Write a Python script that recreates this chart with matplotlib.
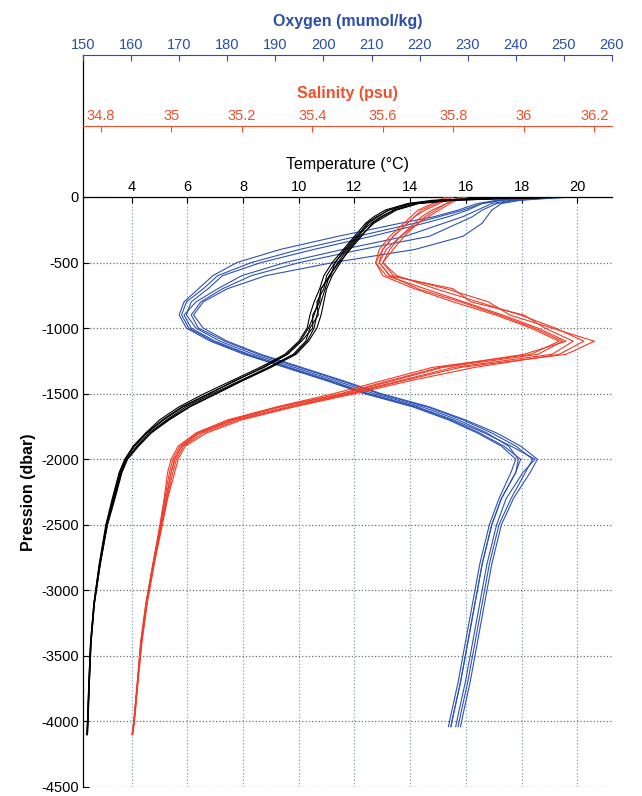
import matplotlib
matplotlib.use('Agg')
import matplotlib.pyplot as plt
from matplotlib.lines import Line2D

plt.rcParams['font.family'] = ['Liberation Sans', 'DejaVu Sans']
plt.rcParams['axes.unicode_minus'] = False

# ---------------- data ----------------
PRESSURE = [0, -10, -25, -50, -100, -150, -200, -300, -400, -500, -600, -700, -800, -900,
            -1000, -1100, -1200, -1300, -1400, -1500, -1600, -1700, -1800, -1900, -2000,
            -2100, -2300, -2500, -2800, -3100, -3400, -3700, -4000, -4100]
PRESSURE_OXY = [0, -10, -25, -50, -100, -150, -200, -300, -400, -500, -600, -700, -800, -900,
                -1000, -1100, -1200, -1300, -1400, -1500, -1600, -1700, -1800, -1900, -2000,
                -2100, -2300, -2500, -2800, -3100, -3400, -3700, -3950, -4040]

TEMP_1 = [20.8, 16.5, 14.8, 13.9, 13.1, 12.7, 12.4, 12.0, 11.6, 11.2, 10.9, 10.75, 10.55, 10.4, 10.3, 10.0, 9.5, 8.6, 7.6, 6.6, 5.7, 5.0, 4.5, 4.05, 3.75, 3.55, 3.3, 3.07, 2.83, 2.64, 2.52, 2.46, 2.41, 2.39]
TEMP_2 = [19.4, 17.8, 15.6, 14.3, 13.5, 13.1, 12.7, 12.2, 11.8, 11.5, 11.2, 11.0, 10.9, 10.8, 10.65, 10.35, 9.9, 9.0, 8.0, 7.05, 6.1, 5.35, 4.7, 4.25, 3.85, 3.65, 3.4, 3.13, 2.87, 2.66, 2.54, 2.48, 2.43, 2.41]
TEMP_3 = [20.2, 16.9, 15.0, 14.0, 13.2, 12.85, 12.5, 12.15, 11.75, 11.4, 11.1, 10.8, 10.75, 10.5, 10.5, 10.1, 9.6, 8.75, 7.7, 6.8, 5.85, 5.15, 4.55, 4.1, 3.78, 3.58, 3.33, 3.1, 2.85, 2.65, 2.53, 2.47, 2.42, 2.4]
TEMP_4 = [19.8, 17.3, 15.4, 14.2, 13.4, 12.95, 12.6, 12.05, 11.65, 11.3, 11.0, 10.9, 10.65, 10.7, 10.4, 10.25, 9.8, 8.9, 7.9, 6.9, 5.95, 5.25, 4.62, 4.18, 3.82, 3.62, 3.36, 3.11, 2.86, 2.65, 2.53, 2.47, 2.42, 2.4]
TEMP_5 = [20.5, 16.7, 15.1, 14.05, 13.25, 12.8, 12.45, 12.1, 11.7, 11.3, 11.15, 10.8, 10.7, 10.55, 10.35, 10.05, 9.55, 8.7, 7.75, 6.75, 5.8, 5.1, 4.52, 4.1, 3.77, 3.58, 3.33, 3.09, 2.84, 2.64, 2.52, 2.46, 2.41, 2.39]
TEMP_6 = [19.6, 17.5, 15.5, 14.25, 13.45, 13.0, 12.65, 12.25, 11.85, 11.45, 11.1, 10.95, 10.8, 10.65, 10.55, 10.3, 9.85, 8.95, 7.95, 7.0, 6.05, 5.3, 4.68, 4.22, 3.84, 3.63, 3.37, 3.12, 2.87, 2.66, 2.54, 2.48, 2.43, 2.41]

SAL_1 = [35.84, 35.82, 35.80, 35.78, 35.74, 35.71, 35.69, 35.65, 35.62, 35.60, 35.64, 35.75, 35.87, 35.99, 36.09, 36.17, 36.10, 35.86, 35.68, 35.52, 35.35, 35.20, 35.10, 35.04, 35.02, 35.01, 34.99, 34.975, 34.952, 34.932, 34.917, 34.906, 34.896, 34.891]
SAL_2 = [35.78, 35.77, 35.76, 35.74, 35.70, 35.68, 35.66, 35.62, 35.59, 35.58, 35.60, 35.69, 35.80, 35.92, 36.02, 36.10, 36.02, 35.74, 35.60, 35.46, 35.30, 35.16, 35.07, 35.02, 35.00, 34.99, 34.98, 34.968, 34.948, 34.928, 34.913, 34.904, 34.894, 34.889]
SAL_3 = [35.82, 35.81, 35.80, 35.78, 35.75, 35.72, 35.70, 35.66, 35.63, 35.60, 35.63, 35.78, 35.90, 35.96, 36.08, 36.20, 36.12, 35.82, 35.66, 35.51, 35.34, 35.19, 35.09, 35.035, 35.015, 35.005, 34.988, 34.973, 34.951, 34.931, 34.916, 34.905, 34.895, 34.89]
SAL_4 = [35.80, 35.79, 35.78, 35.76, 35.72, 35.69, 35.67, 35.63, 35.60, 35.58, 35.61, 35.72, 35.83, 35.94, 36.04, 36.12, 36.00, 35.76, 35.62, 35.48, 35.31, 35.17, 35.08, 35.03, 35.01, 35.00, 34.985, 34.971, 34.95, 34.93, 34.915, 34.905, 34.895, 34.89]
SAL_5 = [35.83, 35.82, 35.81, 35.79, 35.76, 35.73, 35.70, 35.65, 35.61, 35.59, 35.62, 35.80, 35.85, 36.00, 36.06, 36.14, 36.08, 35.80, 35.65, 35.50, 35.33, 35.18, 35.08, 35.03, 35.01, 35.00, 34.986, 34.972, 34.95, 34.93, 34.915, 34.905, 34.895, 34.89]
SAL_6 = [35.79, 35.78, 35.77, 35.75, 35.71, 35.69, 35.67, 35.63, 35.60, 35.59, 35.62, 35.70, 35.82, 35.93, 36.03, 36.11, 36.04, 35.77, 35.63, 35.49, 35.31, 35.17, 35.075, 35.025, 35.005, 34.995, 34.982, 34.97, 34.948, 34.929, 34.914, 34.904, 34.894, 34.889]

OXY_1 = [251, 246, 240, 236, 233, 231, 228, 222, 208, 195, 185, 179, 174.5, 172.5, 174, 179.5, 186.5, 195, 203.5, 211.5, 221.5, 229, 235, 240, 243.5, 242, 239, 236.5, 234.5, 233, 231.5, 230, 228.5, 228]
OXY_2 = [246, 241, 236, 232, 228, 223, 216, 203, 191, 182, 177, 174, 171, 170, 171.5, 176.5, 183.5, 192, 200.5, 208.5, 218.5, 226, 232, 237, 240, 239, 236.5, 234.5, 232.5, 231, 229.5, 228, 226.5, 226]
OXY_3 = [250, 245, 239, 235, 232, 229, 225, 217, 204, 192, 183, 178, 173.5, 171, 172.5, 177.5, 184.5, 193, 201.5, 209.5, 219.5, 227, 233.5, 239, 244, 241.5, 238, 236, 234, 232.5, 231, 229.5, 228, 227.5]
OXY_4 = [248, 243, 237, 233, 230, 226, 221, 210, 198, 187, 179, 176, 172.5, 171.5, 173.5, 178.5, 185.5, 194, 202.5, 210.5, 220.5, 228, 234, 238.5, 240.5, 240, 237, 235, 233, 231.5, 230, 228.5, 227, 226.5]
OXY_5 = [252, 247, 241, 237, 235, 234, 233, 229, 219, 202, 188, 180, 175, 173, 175, 180, 187, 195.5, 204, 212, 222, 229.5, 236, 241, 244.5, 243, 239.5, 237, 235, 233.5, 232, 230.5, 229, 228.5]
OXY_6 = [247, 242, 237, 233, 229, 224, 219, 207, 195, 185, 178, 175, 171.5, 170.5, 172, 177, 184, 192.5, 201, 209, 219, 226.5, 232.5, 237.5, 241, 240, 237, 235, 233, 231.5, 230, 228.5, 227, 226.5]

TEMP_PROFILES = [TEMP_1, TEMP_2, TEMP_3, TEMP_4, TEMP_5, TEMP_6]
SAL_PROFILES = [SAL_1, SAL_2, SAL_3, SAL_4, SAL_5, SAL_6]
OXY_PROFILES = [OXY_1, OXY_2, OXY_3, OXY_4, OXY_5, OXY_6]

TEMP_TICKS = [4, 6, 8, 10, 12, 14, 16, 18, 20]
SAL_TICKS = [34.8, 35.0, 35.2, 35.4, 35.6, 35.8, 36.0, 36.2]
SAL_TICK_LABELS = ['34.8', '35', '35.2', '35.4', '35.6', '35.8', '36', '36.2']
OXY_TICKS = [150, 160, 170, 180, 190, 200, 210, 220, 230, 240, 250, 260]
PRES_TICKS = [0, -500, -1000, -1500, -2000, -2500, -3000, -3500, -4000, -4500]

# ---------------- style ----------------
BLACK = '#000000'
RED = '#f03c28'
BLUE = '#2c52b4'
RED_TXT = '#f0502d'
BLUE_TXT = '#2b4fa8'
TICK_FS = 10.5
TITLE_FS = 11.5

fig = plt.figure(figsize=(6.42, 7.96), dpi=100)
L, R, T, B = 83, 612, 197, 787
W_PX, H_PX = 642, 796
ax = fig.add_axes([L / W_PX, 1 - B / H_PX, (R - L) / W_PX, (B - T) / H_PX])
ax.set_xlim(2.25, 21.25)
ax.set_ylim(-4500, 0)

oxy_pos = 1 + (T - 55) / (B - T)
sal_pos = 1 + (T - 126) / (B - T)

# oxygen axis
ax_o = ax.twiny()
ax_o.set_xlim(150, 260)
ax_o.set_xticks(OXY_TICKS)
for s in ['left', 'right', 'bottom']:
    ax_o.spines[s].set_visible(False)
ax_o.spines['top'].set_position(('axes', oxy_pos))
ax_o.spines['top'].set_color(BLUE_TXT)
ax_o.tick_params(axis='x', direction='in', length=4, labelsize=TICK_FS, pad=2,
                 colors=BLUE_TXT)
ax_o.set_xlabel('Oxygen (mumol/kg)', fontsize=TITLE_FS, fontweight='bold',
                color=BLUE_TXT, labelpad=9)
for prof in OXY_PROFILES:
    ax_o.plot(prof, PRESSURE_OXY, color=BLUE, linewidth=0.8)

# salinity axis
ax_s = ax.twiny()
ax_s.set_xlim(34.75, 36.25)
ax_s.set_xticks(SAL_TICKS)
ax_s.set_xticklabels(SAL_TICK_LABELS)
for s in ['left', 'right', 'bottom']:
    ax_s.spines[s].set_visible(False)
ax_s.spines['top'].set_position(('axes', sal_pos))
ax_s.spines['top'].set_color(RED_TXT)
ax_s.tick_params(axis='x', direction='in', length=4, labelsize=TICK_FS, pad=2,
                 colors=RED_TXT)
ax_s.set_xlabel('Salinity (psu)', fontsize=TITLE_FS, fontweight='bold',
                color=RED_TXT, labelpad=8)
for prof in SAL_PROFILES:
    ax_s.plot(prof, PRESSURE, color=RED, linewidth=0.8)

# temperature lines on top
ax_t = ax.twiny()
ax_t.set_xlim(2.25, 21.25)
ax_t.axis('off')
for prof in TEMP_PROFILES:
    ax_t.plot(prof, PRESSURE, color=BLACK, linewidth=0.8)
ax_t.set_ylim(-4500, 0)

# base (temperature) axis, configured after the twins
ax.set_xticks(TEMP_TICKS)
ax.set_yticks(PRES_TICKS)
ax.xaxis.grid(True, linestyle=':', color='#7fa3c4', linewidth=0.9)
ax.yaxis.grid(True, linestyle=':', color='#6e6e6e', linewidth=0.9)
ax.set_axisbelow(True)
for s in ['right', 'bottom']:
    ax.spines[s].set_visible(False)
ax.spines['top'].set_color(BLACK)
ax.spines['left'].set_color(BLACK)
ax.spines['top'].set_linewidth(0.9)
ax.spines['left'].set_linewidth(0.9)
ax.xaxis.set_ticks_position('top')
ax.xaxis.set_label_position('top')
ax.tick_params(axis='x', direction='in', length=4, labelsize=TICK_FS, pad=2,
               colors=BLACK, top=True, bottom=False, labeltop=True, labelbottom=False)
ax.tick_params(axis='y', direction='in', length=4, labelsize=TICK_FS, pad=3)
ax.set_xlabel('Temperature (\u00b0C)', fontsize=TITLE_FS, labelpad=8)
ax.set_ylabel('Pression (dbar)', fontsize=TITLE_FS, fontweight='bold', labelpad=4)

# extension of the left axis up to the oxygen axis
ax.add_artist(Line2D([0, 0], [1, oxy_pos], transform=ax.transAxes, color=BLACK,
                     linewidth=0.9, clip_on=False))

fig.savefig('out.png', dpi=100)
